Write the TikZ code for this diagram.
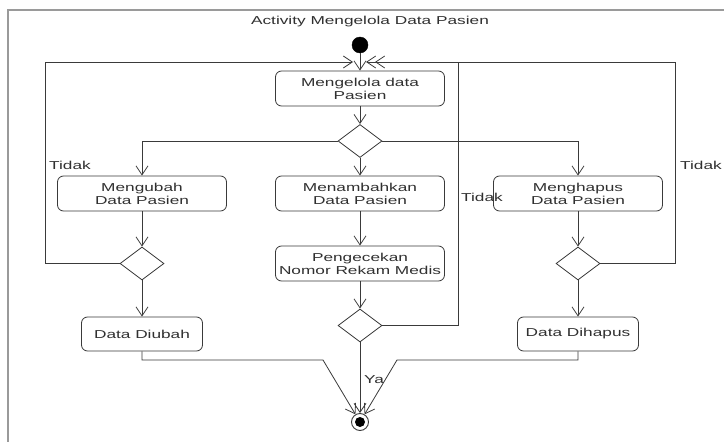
\documentclass[tikz,border=0pt]{standalone}
\usepackage{fontspec}
\setmainfont{Liberation Sans}[FakeStretch=1.5]
\usetikzlibrary{arrows.meta,shapes.geometric}
\definecolor{ln}{HTML}{3A3A3A}
\definecolor{txt}{HTML}{303030}
\definecolor{frm}{HTML}{9A9A9A}
\begin{document}
\begin{tikzpicture}[x=1pt,y=-1pt,
  every node/.style={text=txt,font=\fontsize{11.5}{13}\selectfont},
  act/.style={draw=ln,line width=0.8pt,rounded corners=6pt,align=center,inner sep=0pt},
  bigact/.style={act,minimum width=169pt,minimum height=35pt},
  smallact/.style={act,minimum width=121pt,minimum height=34pt},
  dec/.style={draw=ln,line width=0.8pt,diamond,inner sep=0pt,minimum width=44pt,minimum height=33pt},
  flow/.style={draw=ln,line width=0.8pt,-{Straight Barb[length=9pt,width=12pt]}},
  plain/.style={draw=ln,line width=0.8pt},
  lbl/.style={inner sep=0pt}]
\useasboundingbox[fill=white] (0,0) rectangle (724,442);
% frame
\draw[frm,line width=1.6pt] (8,442) -- (8,10) -- (724,10);
\node[lbl] (title) at (370,22) {Activity Mengelola Data Pasien};
% nodes
\node[circle,fill=black,draw=black,minimum size=16pt,inner sep=0pt] (start) at (360,45) {};
\node[bigact] (kelola) at (360,88.5) {Mengelola data\\Pasien};
\node[dec] (d1) at (360,141) {};
\node[bigact] (ubah) at (142,193.5) {Mengubah\\Data Pasien};
\node[bigact] (tambah) at (360,193.5) {Menambahkan\\Data Pasien};
\node[bigact] (hapus) at (578,193.5) {Menghapus\\Data Pasien};
\node[dec] (dL) at (142,263.5) {};
\node[bigact] (cek) at (360,263.5) {Pengecekan\\Nomor Rekam Medis};
\node[dec] (dR) at (578,263.5) {};
\node[smallact] (diubah) at (142,334) {Data Diubah};
\node[dec] (d3) at (360,325.5) {};
\node[smallact] (dihapus) at (578,334) {Data Dihapus};
\node[circle,draw=ln,line width=0.9pt,fill=white,minimum size=17pt,inner sep=0pt] (final) at (360,422) {};
\node[circle,fill=black,minimum size=10pt,inner sep=0pt] (finalin) at (final.center) {};
% coordinates
\coordinate (mL) at (353,62);
\coordinate (mR1) at (366,62);
\coordinate (mR2) at (375,62);
\coordinate (loopL) at (45,62);
\coordinate (loopR) at (675,62);
\coordinate (loopC) at (458,62);
\coordinate (jL) at (323,360);
\coordinate (jR) at (397,360);
% connectors
\draw[flow] (start) -- (kelola);
\draw[flow] (kelola) -- (d1);
\draw[flow] (d1.west) -| (ubah.north);
\draw[flow] (d1) -- (tambah);
\draw[flow] (d1.east) -| (hapus.north);
\draw[flow] (ubah) -- (dL);
\draw[flow] (tambah) -- (cek);
\draw[flow] (hapus) -- (dR);
\draw[flow] (cek) -- (d3);
\draw[flow] (dL) -- (diubah);
\draw[flow] (dR) -- (dihapus);
\draw[flow] (dL.west) -| (loopL) -- (mL);
\draw[flow] (dR.east) -| (loopR) -- (mR1);
\draw[flow] (d3.east) -| (loopC) -- (mR2);
\draw[flow] (diubah.south) |- (jL) -- (final);
\draw[flow] (dihapus.south) |- (jR) -- (final);
\draw[flow] (d3) -- (final);
% labels
\node[lbl] (tL) at (70,165) {Tidak};
\node[lbl] (tR) at (701,165) {Tidak};
\node[lbl] (tC) at (482,197) {Tidak};
\node[lbl] (ya) at (374,380) {Ya};
\end{tikzpicture}
\end{document}
